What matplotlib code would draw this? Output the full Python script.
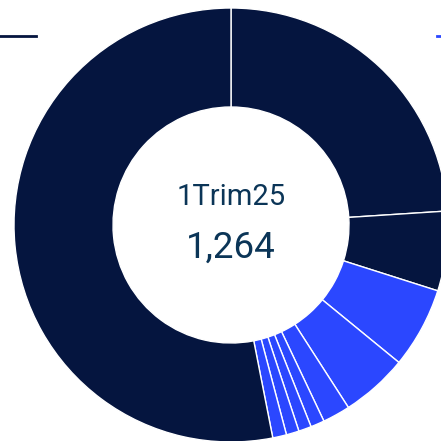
import matplotlib.pyplot as plt

# valeurs (total 1264)
values = [303, 75, 76, 63, 26, 13, 12, 12, 13, 671]
colors = ['#05153f', '#05153f', '#2b47ff', '#2b47ff', '#2b47ff',
          '#2b47ff', '#2b47ff', '#2b47ff', '#2b47ff', '#05153f']
period = '1Trim25'
total = sum(values)

fig = plt.figure(figsize=(4.41, 4.41), dpi=100)
ax = fig.add_axes([0, 0, 1, 1])
ax.set_xlim(0, 441)
ax.set_ylim(0, 441)
ax.set_aspect('equal')
ax.axis('off')

ax.pie(values, colors=colors, radius=217, center=(231, 216),
       startangle=90, counterclock=False,
       wedgeprops=dict(width=99, edgecolor='white', linewidth=1))
ax.set_xlim(0, 441)
ax.set_ylim(0, 441)

ax.text(231, 244, period, ha='center', va='center', fontsize=21,
        family='Roboto', color='#0b3557')
ax.text(231, 193, '{:,}'.format(total), ha='center', va='center', fontsize=26.5,
        family='Roboto', color='#0b3557')

# bouts de légende coupés en haut
ax.plot([0, 36], [405, 405], color='#05153f', lw=2)
ax.plot([437, 441], [405, 405], color='#2b47ff', lw=2)

fig.savefig('out.png', dpi=100)
